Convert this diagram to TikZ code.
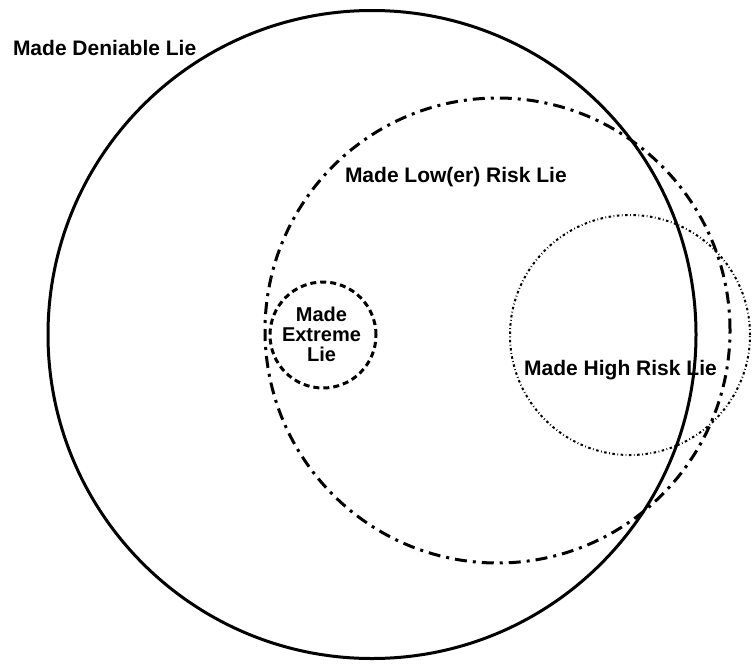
\documentclass[tikz,border=0pt]{standalone}
\usepackage{fontspec}
\setsansfont{Liberation Sans}
\usetikzlibrary{shapes}

\begin{document}
\begin{tikzpicture}[x = 1pt, y = -1pt, font=\sffamily\bfseries\fontsize{21}{21}\selectfont]
\tikzstyle{SetStyle}=[shape = circle, inner sep = 0pt, outer sep = 0pt, draw]
\tikzstyle{deniableStyle}=[SetStyle, line width = 3pt]
\tikzstyle{lowStyle}=[SetStyle, line width = 3pt, dash pattern = on 12pt off 6pt on 3pt off 6pt]
\tikzstyle{highStyle}=[SetStyle, line width = 2pt, dash pattern = on 2.5pt off 2.5pt on 0.8pt off 2.5pt]
\tikzstyle{extremeStyle}=[SetStyle, line width = 3pt, dash pattern = on 6pt off 4pt]
\tikzstyle{LabelStyle}=[inner sep = 0pt, outer sep = 0pt]
\useasboundingbox (0, 0) rectangle (754, 664);
\node[deniableStyle, minimum size = 648pt] (deniable) at (372, 334.5) {};
\node[lowStyle, minimum size = 465pt] (low) at (497.5, 330.5) {};
\node[highStyle, minimum size = 240pt] (high) at (630, 335) {};
\node[extremeStyle, minimum size = 106pt] (extreme) at (323, 335) {};
\node[LabelStyle, anchor = base west] (deniableLabel) at (13, 55) {Made Deniable Lie};
\node[LabelStyle, anchor = base west] (lowLabel) at (345, 182) {Made Low(er) Risk Lie};
\node[LabelStyle, anchor = base] (highLabel) at (620.5, 375) {Made High Risk Lie};
\node[LabelStyle, align = center, font = \sffamily\bfseries\fontsize{20}{20}\selectfont] (extremeLabel) at (321.5, 334.5) {Made\\Extreme\\Lie};
\end{tikzpicture}
\end{document}
